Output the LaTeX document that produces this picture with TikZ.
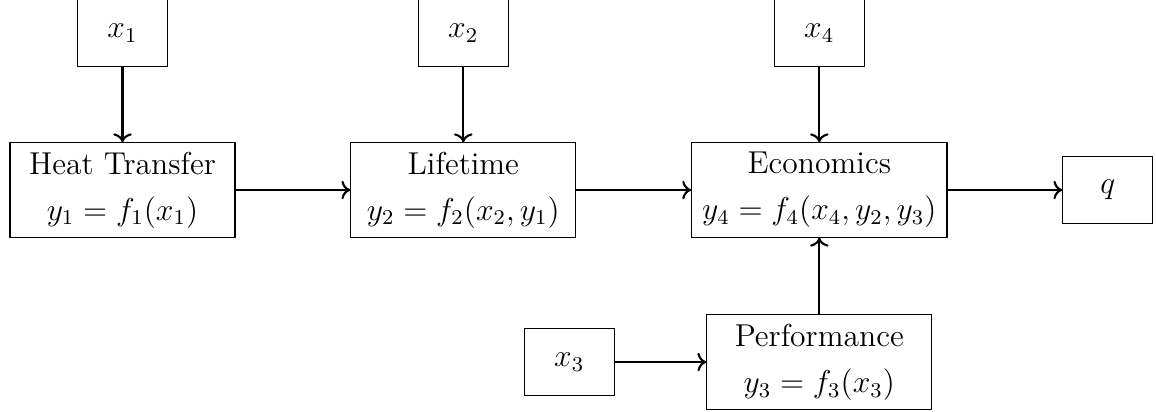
\documentclass[tikz,border=0pt,12pt]{standalone}
\usetikzlibrary{arrows.meta,positioning}
\tikzset{
  block/.style={draw, align=center, inner ysep=2pt, minimum width=3cm, minimum height=1.26cm},
  varbox/.style={draw, minimum width=1.2cm, minimum height=0.9cm},
  flowln/.style={->, thick},
}

\begin{document}
\begin{tikzpicture}
    \useasboundingbox (-1.633,-2.96) rectangle (13.78,2.533);

    % main chain of disciplines
    \node[block] (heat) at (0,0) {Heat Transfer\\[3pt] $y_1 = f_1(x_1)$};
    \node[block, right=1.53cm of heat] (life) {Lifetime\\[3pt] $y_2 = f_2(x_2, y_1)$};
    \node[block, right=1.53cm of life] (econ) {Economics\\[3pt] $y_4 = f_4(x_4, y_2, y_3)$};
    \node[varbox, right=1.53cm of econ] (q) {$q$};
    \node[block, below=1.02cm of econ] (perf) {Performance\\[3pt] $y_3 = f_3(x_3)$};

    % design variables
    \node[varbox, above=1cm of heat] (x1) {$x_1$};
    \node[varbox, above=1cm of life] (x2) {$x_2$};
    \node[varbox, above=1cm of econ] (x4) {$x_4$};
    \node[varbox, left=1.22cm of perf] (x3) {$x_3$};

    \draw[flowln] (x1) -- (heat);
    \draw[flowln] (x2) -- (life);
    \draw[flowln] (x4) -- (econ);
    \draw[flowln] (x3) -- (perf);
    \draw[flowln] (heat) -- (life);
    \draw[flowln] (life) -- (econ);
    \draw[flowln] (perf) -- (econ);
    \draw[flowln] (econ) -- (q);
\end{tikzpicture}
\end{document}
